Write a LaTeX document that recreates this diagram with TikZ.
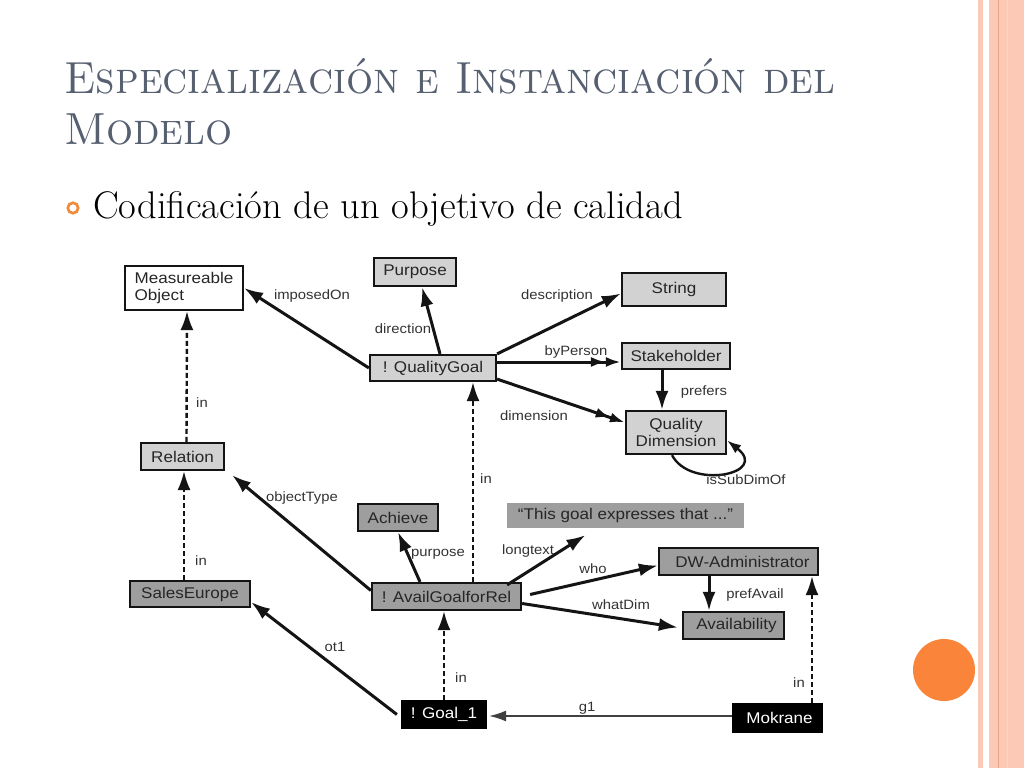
\documentclass[tikz,border=0pt]{standalone}
\usepackage{fontspec}
\usepackage{graphicx}
\usetikzlibrary{arrows.meta}
\newfontfamily\diagfont[FakeStretch=1.1]{Liberation Sans}
\definecolor{titlegray}{HTML}{566070}
\definecolor{lightbox}{HTML}{D2D2D2}
\definecolor{darkbox}{HTML}{9E9E9E}
\definecolor{edgecol}{HTML}{141414}
\definecolor{labelcol}{HTML}{333333}
\definecolor{peach}{HTML}{FBC9B6}
\definecolor{peachdark}{HTML}{EBA385}
\definecolor{orangedot}{HTML}{F9843A}
\definecolor{bulletorange}{HTML}{F08A3C}
\tikzset{
  box/.style={draw=edgecol, line width=2.2pt, inner sep=0pt, font=\diagfont\fontsize{15.5}{17}\selectfont, text=black!85},
  lbox/.style={box, fill=lightbox},
  dbox/.style={box, fill=darkbox},
  kbox/.style={box, fill=black, draw=black, text=white},
  lbl/.style={font=\diagfont\fontsize{13.5}{15}\selectfont, text=labelcol, inner sep=0pt},
  arr/.style={line width=3pt, draw=edgecol, -{Latex[length=19pt,width=13pt]}},
  darr/.style={line width=3pt, draw=edgecol, -{Latex[length=15pt,width=10pt]Latex[length=15pt,width=10pt]}},
  dasharr/.style={line width=2.4pt, draw=edgecol, dash pattern=on 5pt off 3pt, -{Latex[length=19pt,width=13pt]}},
  thinarr/.style={line width=1.7pt, draw=black!75, -{Latex[length=17pt,width=11pt]}},
}
\begin{document}
\begin{tikzpicture}[x=1pt,y=-1pt]
\useasboundingbox (0,0) rectangle (1024,768);
\fill[white] (0,0) rectangle (1024,768);
% right decoration
\fill[peach] (978,0) rectangle (983,768);
\fill[peach] (989,0) rectangle (1024,768);
\draw[peachdark, line width=1pt] (998,0) -- (998,768);
\draw[peach!80!orange!60, line width=0.8pt] (1007,0) -- (1007,768);
\fill[orangedot] (944,670) circle (31);
% title
\node[anchor=base west, inner sep=0pt, text=titlegray, font=\fontsize{45}{45}\selectfont\scshape] (title1) at (64,93) {\scalebox{0.946}[1]{Especialización e Instanciación del}};
\node[anchor=base west, inner sep=0pt, text=titlegray, font=\fontsize{45}{45}\selectfont\scshape] (title2) at (64,144) {\scalebox{0.946}[1]{Modelo}};
\draw[bulletorange, line width=2.7pt] (73,208) circle (5.2);
\node[anchor=base west, inner sep=0pt, font=\fontsize{38.5}{38.5}\selectfont] (bullet) at (93,218) {Codificación de un objetivo de calidad};
% nodes
\node[box, fill=white, minimum width=118pt, minimum height=44pt, align=left] (mo) at (184,288) {Measureable\\Object};
\node[lbox, minimum width=82pt, minimum height=28pt] (purpose) at (415,272) {Purpose};
\node[lbox, minimum width=104pt, minimum height=33pt] (string) at (674,289.5) {String};
\node[lbox, minimum width=126pt, minimum height=26pt] (qg) at (433,368) {! QualityGoal};
\node[lbox, minimum width=108pt, minimum height=26pt] (stake) at (676,356) {Stakeholder};
\node[lbox, minimum width=100pt, minimum height=43pt, align=center] (qd) at (676,432.5) {Quality\\Dimension};
\node[lbox, minimum width=83pt, minimum height=27pt] (relation) at (182.5,456.5) {Relation};
\node[dbox, minimum width=80pt, minimum height=27pt] (achieve) at (398,517.5) {Achieve};
\node[box, draw=none, fill=darkbox, text=black!85, minimum width=237pt, minimum height=25pt] (longtext) at (625.5,515.5) {“This goal expresses that ...”};
\node[dbox, minimum width=149pt, minimum height=27pt] (agr) at (446.5,596.5) {! AvailGoalforRel};
\node[dbox, minimum width=120pt, minimum height=26pt] (sales) at (190,594) {SalesEurope};
\node[dbox, minimum width=159pt, minimum height=27pt] (dwa) at (738.5,561.5) {\hspace*{8pt}DW-Administrator};
\node[dbox, minimum width=101pt, minimum height=27pt] (avail) at (733.5,625.5) {\hspace*{6pt}Availability};
\node[kbox, minimum width=84pt, minimum height=27pt] (goal1) at (444,714.5) {! Goal\_1};
\node[kbox, minimum width=89pt, minimum height=28pt] (mok) at (777.5,718) {\hspace*{4pt}Mokrane};
% edges
\draw[arr] (qg.west) -- (mo.east);
\draw[arr] ([xshift=7pt]qg.north) -- ([xshift=7pt]purpose.south);
\draw[arr] (qg.north east) -- ([yshift=-4pt]string.west);
\draw[darr] ([yshift=6pt]qg.east) -- ([yshift=-6pt]stake.west);
\draw[darr] ([yshift=3pt]qg.south east) -- ([yshift=10pt]qd.west);
\draw[arr] ([xshift=-14pt]stake.south) -- ([xshift=-14pt]qd.north);
\draw[line width=2.4pt, draw=edgecol, -{Latex[length=14pt,width=10pt]}] ([xshift=-4pt]qd.south) .. controls (690,490) and (770,474) .. ([yshift=-8pt]qd.east);
\draw[dasharr] ([xshift=4pt]relation.north) -- ([xshift=3pt]mo.south);
\draw[dasharr] ([xshift=-6pt]sales.north) -- ([xshift=1.5pt]relation.south);
\draw[arr] ([yshift=6pt]agr.west) -- ([xshift=7pt,yshift=-4pt]relation.south east);
\draw[dasharr] ([xshift=26.5pt]agr.north) -- ([xshift=40pt]qg.south);
\draw[arr] ([xshift=-26.5pt]agr.north) -- (achieve.south);
\draw[arr] ([xshift=-15pt,yshift=-3pt]agr.north east) -- ([xshift=-40pt,yshift=-6pt]longtext.south);
\draw[arr] ([xshift=8pt,yshift=2pt]agr.east) -- ([yshift=-4pt]dwa.west);
\draw[arr] ([yshift=-7pt]agr.east) -- ([xshift=-4pt,yshift=-2pt]avail.west);
\draw[arr] ([xshift=-29.5pt]dwa.south) -- ([xshift=-24.5pt]avail.north);
\draw[arr] ([xshift=-4pt]goal1.west) -- ([yshift=6pt]sales.south east);
\draw[dasharr] (goal1.north) -- ([xshift=-2.5pt]agr.south);
\draw[thinarr] ([yshift=2pt]mok.west) -- ([xshift=2pt,yshift=-1.5pt]goal1.east);
\draw[dasharr] ([xshift=34.5pt]mok.north) -- ([xshift=73.5pt]dwa.south);
% labels
\node[lbl] (l1) at (312,296) {imposedOn};
\node[lbl] (l2) at (403,329) {direction};
\node[lbl] (l3) at (557,296) {description};
\node[lbl] (l4) at (576,352) {byPerson};
\node[lbl] (l5) at (534,416) {dimension};
\node[lbl] (l6) at (704,392) {prefers};
\node[lbl] (l7) at (746,480) {isSubDimOf};
\node[lbl] (l8) at (202,403) {in};
\node[lbl] (l9) at (201,561) {in};
\node[lbl] (l10) at (302,498) {objectType};
\node[lbl] (l11) at (486,479) {in};
\node[lbl] (l12) at (438,554) {purpose};
\node[lbl] (l13) at (528,551) {longtext};
\node[lbl] (l14) at (593,569) {who};
\node[lbl] (l15) at (621,605) {whatDim};
\node[lbl] (l16) at (755,595) {prefAvail};
\node[lbl] (l17) at (335,647) {ot1};
\node[lbl] (l18) at (461,678) {in};
\node[lbl] (l19) at (587,708) {g1};
\node[lbl] (l20) at (799,683) {in};
\end{tikzpicture}
\end{document}
